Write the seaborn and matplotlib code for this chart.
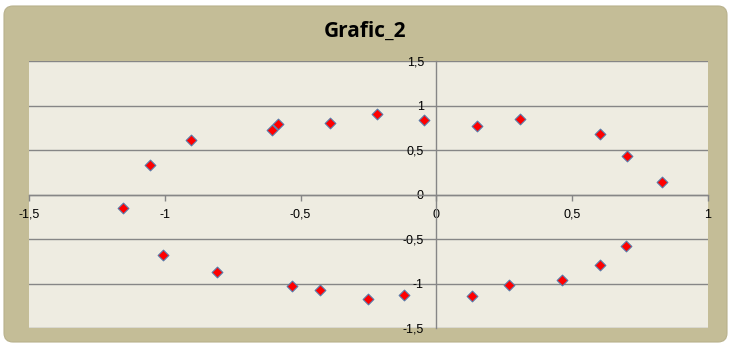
import matplotlib
matplotlib.use("Agg")
import matplotlib.pyplot as plt
from matplotlib.patches import FancyBboxPatch
import seaborn as sns
import pandas as pd

# Data
x_vals = [-1.153, -1.056, -0.903, -0.604, -0.582, -0.392, -0.220, -0.045, 0.151, 0.308,
          0.602, 0.703, 0.830,
          -1.006, -0.808, -0.531, -0.429, -0.253, -0.119, 0.131, 0.266, 0.462, 0.604, 0.699]
y_vals = [-0.153, 0.328, 0.619, 0.731, 0.798, 0.810, 0.910, 0.843, 0.776, 0.847,
          0.686, 0.432, 0.141,
          -0.680, -0.870, -1.027, -1.072, -1.172, -1.124, -1.139, -1.016, -0.960, -0.788, -0.576]
x_ticks = [-1.5, -1, -0.5, 0, 0.5, 1]
y_ticks = [-1.5, -1, -0.5, 0, 0.5, 1, 1.5]
title = "Grafic_2"

df = pd.DataFrame({"x": x_vals, "y": y_vals})

def fmt(v):
    s = ("%g" % v).replace(".", ",")
    return s

plt.rcParams["font.family"] = ["Liberation Sans", "DejaVu Sans"]

W, H = 730, 349
fig = plt.figure(figsize=(W / 100, H / 100), dpi=100)
fig.patch.set_facecolor("white")

frame = FancyBboxPatch((4, H - 342), 723, 336,
                       boxstyle="round,pad=0,rounding_size=9",
                       transform=None, facecolor="#c4bd97", edgecolor="#b8b18c",
                       linewidth=0.8, zorder=-10)
fig.patches.append(frame)

ax = fig.add_axes([29 / W, (H - 328) / H, (708 - 29) / W, (328 - 61.3) / H])
ax.set_zorder(5)
ax.set_facecolor("#eeece1")

grid_c = "#868686"
for yv in y_ticks:
    ax.axhline(yv, color=grid_c, linewidth=1.0, zorder=1)

sns.scatterplot(data=df, x="x", y="y", ax=ax, marker="D", s=30,
                color="#ff0000", edgecolor="#5b7aa8", linewidth=0.8, zorder=3,
                legend=False)

ax.set_xlim(-1.5, 1)
ax.set_ylim(-1.5, 1.5)
ax.set_xlabel("")
ax.set_ylabel("")

for side in ["top", "right"]:
    ax.spines[side].set_visible(False)
ax.spines["left"].set_position(("data", 0))
ax.spines["bottom"].set_position(("data", 0))
ax.spines["left"].set_color(grid_c)
ax.spines["bottom"].set_color(grid_c)
ax.spines["left"].set_linewidth(1.0)
ax.spines["bottom"].set_linewidth(1.0)
ax.spines["left"].set_zorder(2)
ax.spines["bottom"].set_zorder(2)

ax.set_xticks(x_ticks)
ax.set_xticklabels([fmt(v) for v in x_ticks])
ax.set_yticks(y_ticks)
ax.set_yticklabels([fmt(v) for v in y_ticks])
ax.tick_params(axis="x", direction="out", length=4, width=1, color=grid_c,
               labelsize=9, pad=6, labelcolor="black")
ax.tick_params(axis="y", direction="out", length=0, width=1, color=grid_c,
               labelsize=9, pad=9, labelcolor="black")

fig.text(365 / W, (H - 31) / H, title, ha="center", va="center",
         fontsize=15, fontweight="bold", family=["Open Sans", "DejaVu Sans"])

fig.savefig("out.png", dpi=100, facecolor=fig.get_facecolor())
